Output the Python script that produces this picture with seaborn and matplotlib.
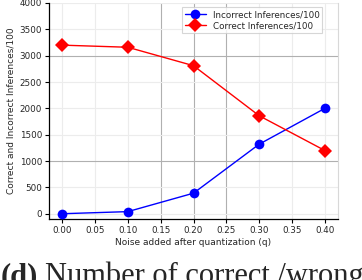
import numpy as np
import pandas as pd
import seaborn as sns
import matplotlib
matplotlib.use("Agg")
import matplotlib.pyplot as plt

noise = [0.00, 0.10, 0.20, 0.30, 0.40]
incorrect = [0, 40, 390, 1320, 2000]
correct = [3200, 3160, 2810, 1860, 1200]
series_names = ["Incorrect Inferences/100", "Correct Inferences/100"]
x_ticks = [0.00, 0.05, 0.10, 0.15, 0.20, 0.25, 0.30, 0.35, 0.40]
y_ticks = [0, 500, 1000, 1500, 2000, 2500, 3000, 3500, 4000]

df = pd.DataFrame({
    "q": noise + noise,
    "value": incorrect + correct,
    "series": [series_names[0]] * len(noise) + [series_names[1]] * len(noise),
})

sns.set_theme(style="white")
plt.rcParams["font.family"] = ["DejaVu Sans"]

fig = plt.figure(figsize=(3.62, 2.80), dpi=100)
ax = fig.add_axes([49 / 362, 1 - 219 / 280, (338 - 49) / 362, (219 - 3) / 280])

# grid
for xt in x_ticks:
    dark = xt in (0.15, 0.20, 0.25)
    ax.axvline(xt, color="#b0b0b0" if dark else "#ececec", lw=0.8, zorder=0)
for yt in y_ticks:
    dark = yt in (1000, 3000)
    ax.axhline(yt, color="#b0b0b0" if dark else "#ececec", lw=0.8, zorder=0)

sns.lineplot(data=df, x="q", y="value", hue="series", style="series",
             markers={series_names[0]: "o", series_names[1]: "D"},
             dashes=False, palette={series_names[0]: "blue", series_names[1]: "red"},
             markersize=7, markeredgewidth=0, linewidth=1, ax=ax, zorder=3)

ax.set_xlim(-0.02, 0.42)
ax.set_ylim(-100, 4000)
ax.set_xticks(x_ticks)
ax.set_xticklabels([f"{v:.2f}" for v in x_ticks])
ax.set_yticks(y_ticks)
ax.tick_params(axis="both", labelsize=6.3, length=3, width=0.8, color="black",
               pad=2, bottom=True, left=True)
ax.set_xlabel("Noise added after quantization (q)", fontsize=6.5, labelpad=2)
ax.set_ylabel("Correct and Incorrect Inferences/100", fontsize=6.5, labelpad=3)

for s in ["left", "bottom"]:
    ax.spines[s].set_color("black")
    ax.spines[s].set_linewidth(0.9)
ax.spines["top"].set_visible(False)
ax.spines["right"].set_color("#d8d8d8")
ax.spines["right"].set_linewidth(0.8)

leg = ax.legend(loc="upper right", fontsize=6.3, frameon=True, fancybox=False,
                borderpad=0.3, labelspacing=0.25, handlelength=2.4,
                bbox_to_anchor=(0.96, 1.0))
leg.get_frame().set_edgecolor("#cccccc")
leg.get_frame().set_linewidth(0.8)

base_y = 1 - 284 / 280
fig.text(1 / 362, base_y, "(d)", fontsize=22, weight="bold",
         family="Liberation Serif", va="baseline", ha="left")
fig.text(45 / 362, base_y, "Number of correct /wrong", fontsize=22,
         family="Liberation Serif", va="baseline", ha="left")

fig.savefig("out.png", dpi=100)
